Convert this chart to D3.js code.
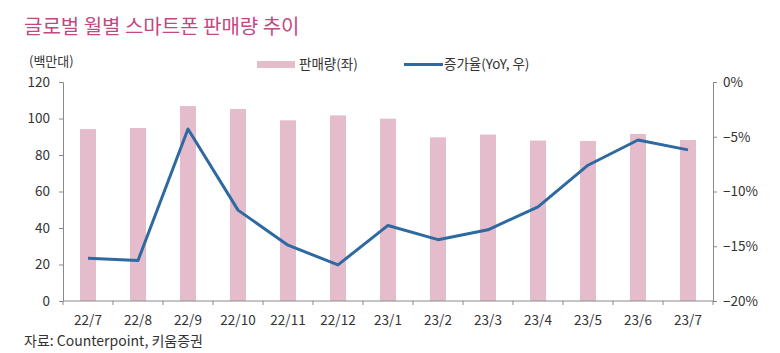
<!DOCTYPE html>
<html>
<head>
<meta charset="utf-8">
<script src="https://cdn.jsdelivr.net/npm/d3@7"></script>
<style>
  body { margin: 0; background: #fff; }
  svg text { font-family: "Noto Sans CJK KR", "Noto Sans", sans-serif; }
</style>
</head>
<body>
<div id="chart"></div>
<script>
var months = ["22/7","22/8","22/9","22/10","22/11","22/12","23/1","23/2","23/3","23/4","23/5","23/6","23/7"];
var sales = [94.2, 94.8, 106.8, 105.2, 99.0, 101.7, 99.9, 89.7, 91.2, 87.9, 87.7, 91.5, 88.2];
var yoy = [-16.1, -16.3, -4.3, -11.7, -14.9, -16.7, -13.1, -14.4, -13.5, -11.4, -7.6, -5.3, -6.2];
var leftTicks = [0, 20, 40, 60, 80, 100, 120];
var rightTicks = [-20, -15, -10, -5, 0];

var W = 780, H = 353;
var margin = {top: 82, right: 67, bottom: 52, left: 63};
var w = W - margin.left - margin.right;
var h = H - margin.top - margin.bottom;

var svg = d3.select("#chart").append("svg")
  .attr("width", W).attr("height", H);

// title
svg.append("text").attr("x", 24).attr("y", 34)
  .attr("fill", "#c3487f").attr("font-size", 20)
  .text("글로벌 월별 스마트폰 판매량 추이");

svg.append("text").attr("x", 29).attr("y", 66)
  .attr("fill", "#333").attr("font-size", 13)
  .text("(백만대)");

var g = svg.append("g").attr("transform", "translate(" + margin.left + "," + margin.top + ")");

var x = d3.scaleBand().domain(months).range([0, w]);
var yl = d3.scaleLinear().domain([0, 120]).range([h, 0]);
var yr = d3.scaleLinear().domain([-20, 0]).range([h, 0]);

// bars
g.selectAll("rect.bar").data(sales).enter().append("rect")
  .attr("class", "bar")
  .attr("x", function(d, i) { return x(months[i]) + x.bandwidth() / 2 - 8; })
  .attr("width", 16)
  .attr("y", function(d) { return yl(d); })
  .attr("height", function(d) { return h - yl(d); })
  .attr("fill", "#e5bccb");

// line
var line = d3.line()
  .x(function(d, i) { return x(months[i]) + x.bandwidth() / 2; })
  .y(function(d) { return yr(d); });
g.append("path").datum(yoy)
  .attr("fill", "none")
  .attr("stroke", "#2f69a2")
  .attr("stroke-width", 3)
  .attr("stroke-linejoin", "round")
  .attr("d", line);

function styleAxis(sel) {
  sel.selectAll("path, line").attr("stroke", "#8a8a8a");
  sel.selectAll("text").attr("fill", "#333").attr("font-size", 13.5)
    .attr("font-family", "'Noto Sans', sans-serif");
}

// left axis
var ax = g.append("g")
  .call(d3.axisLeft(yl).tickValues(leftTicks).tickSize(4).tickSizeOuter(4).tickPadding(9));
styleAxis(ax);

// right axis
var ar = g.append("g").attr("transform", "translate(" + w + ",0)")
  .call(d3.axisRight(yr).tickValues(rightTicks).tickSize(4).tickSizeOuter(4).tickPadding(6)
    .tickFormat(function(d) { return (d < 0 ? "\u2212" : "") + Math.abs(d) + "%"; }));
styleAxis(ar);

// x axis with ticks at band edges
var xb = g.append("g").attr("transform", "translate(0," + h + ")");
xb.append("line").attr("x1", 0).attr("x2", w).attr("stroke", "#8a8a8a");
xb.selectAll("line.tk").data(d3.range(months.length + 1)).enter().append("line")
  .attr("class", "tk")
  .attr("x1", function(i) { return i * x.step(); })
  .attr("x2", function(i) { return i * x.step(); })
  .attr("y1", 0).attr("y2", 4)
  .attr("stroke", "#8a8a8a");
xb.selectAll("text").data(months).enter().append("text")
  .attr("x", function(d) { return x(d) + x.bandwidth() / 2; })
  .attr("y", 24)
  .attr("text-anchor", "middle")
  .attr("fill", "#333").attr("font-size", 13.5)
  .attr("font-family", "'Noto Sans', sans-serif")
  .text(function(d) { return d; });

// legend
var lg = svg.append("g");
lg.append("rect").attr("x", 257).attr("y", 61).attr("width", 38).attr("height", 7).attr("fill", "#e5bccb");
lg.append("text").attr("x", 299).attr("y", 69).attr("font-size", 13.5).attr("fill", "#333").text("판매량(좌)");
lg.append("line").attr("x1", 404).attr("x2", 443).attr("y1", 64.5).attr("y2", 64.5)
  .attr("stroke", "#2f69a2").attr("stroke-width", 3);
lg.append("text").attr("x", 444).attr("y", 69).attr("font-size", 13.5).attr("fill", "#333").text("증가율(YoY, 우)");

// source
svg.append("text").attr("x", 24).attr("y", 346)
  .attr("font-size", 14).attr("fill", "#333")
  .text("자료: Counterpoint, 키움증권");
</script>
</body>
</html>
